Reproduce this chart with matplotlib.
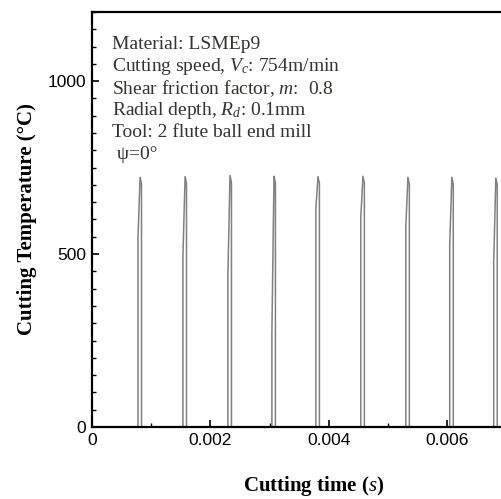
"""Cutting temperature vs. time, ball end mill, LSMEp9."""

import matplotlib

matplotlib.use("Agg")
import matplotlib.pyplot as plt
from matplotlib.ticker import MultipleLocator

# one spike per flute engagement: start time, level where the rise bends, peak
spike_start = [0.000776, 0.001536, 0.002295, 0.003038, 0.003781,
               0.004540, 0.005300, 0.006042, 0.006785]
spike_knee = [545, 495, 437, 270, 630, 605, 577, 527, 475]
spike_peak = [722, 724, 727, 725, 724, 725, 722, 722, 720]
spike_width = 0.00006

x_ticks = [0, 0.002, 0.004, 0.006]
x_tick_labels = ["0", "0.002", "0.004", "0.006"]
y_ticks = [0, 500, 1000]

notes = [
    "Material: LSMEp9",
    r"Cutting speed, $V_c$: 754m/min",
    r"Shear friction factor, $m$:  0.8",
    r"Radial depth, $R_d$: 0.1mm",
    "Tool: 2 flute ball end mill",
    " \u03c8=0\u00b0",
]

plt.rcParams["mathtext.fontset"] = "custom"
plt.rcParams["mathtext.rm"] = "Liberation Serif"
plt.rcParams["mathtext.it"] = "Liberation Serif:italic"

# build the temperature trace from the spike table
t, temp = [0.0], [0.0]
for t0, knee, peak in zip(spike_start, spike_knee, spike_peak):
    t += [t0, t0, t0 + spike_width * 0.6, t0 + spike_width, t0 + spike_width]
    temp += [0, knee, peak, peak - 20, 0]
t.append(0.0075)
temp.append(0)

fig = plt.figure(figsize=(5.02, 4.99), dpi=100)
ax = fig.add_axes([0.1833, 0.1443, 0.8845, 0.8317])

ax.plot(t, temp, color="0.5", lw=1.1)

ax.set_xlim(0, 0.0075)
ax.set_ylim(0, 1200)
ax.set_xticks(x_ticks)
ax.set_xticklabels(x_tick_labels)
ax.set_yticks(y_ticks)
ax.xaxis.set_minor_locator(MultipleLocator(0.001))
ax.yaxis.set_minor_locator(MultipleLocator(50))

for side in ax.spines.values():
    side.set_linewidth(1.6)
ax.tick_params(which="major", direction="in", length=5, width=1.2,
               labelsize=12.5, pad=4, top=False, right=False)
ax.tick_params(which="minor", direction="in", length=3, width=1.0,
               top=False, right=False)
for lab in ax.get_xticklabels() + ax.get_yticklabels():
    lab.set_family("Liberation Sans")

ax.set_xlabel(r"Cutting time ($\mathit{s}$)", family="Liberation Serif",
              fontweight="bold", fontsize=15, labelpad=19)
ax.set_ylabel("Cutting Temperature (\u00b0C)", family="Liberation Serif",
              fontweight="bold", fontsize=15, labelpad=8)

for i, line in enumerate(notes):
    ax.text(0.00034, 1105 - i * 63.6, line, family="Liberation Serif",
            fontsize=14, color="#333330", va="center")

fig.savefig("out.png", dpi=100)
